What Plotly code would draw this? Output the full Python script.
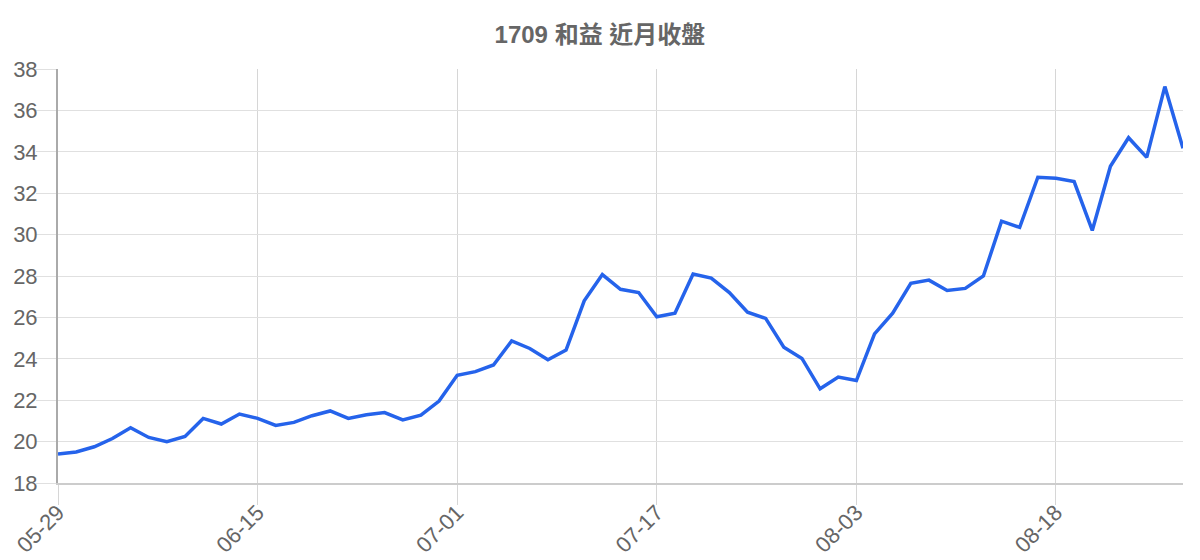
import plotly.graph_objects as go

# 交易日 (MM-DD)
dates = [
    "05-29", "06-01", "06-02", "06-03", "06-04", "06-05", "06-08", "06-09",
    "06-10", "06-11", "06-12", "06-15", "06-16", "06-17", "06-18", "06-22",
    "06-23", "06-24", "06-25", "06-26", "06-29", "06-30", "07-01", "07-02",
    "07-03", "07-06", "07-07", "07-08", "07-09", "07-10", "07-13", "07-14",
    "07-15", "07-17", "07-20", "07-21", "07-22", "07-23", "07-24", "07-27",
    "07-28", "07-29", "07-30", "07-31", "08-03", "08-04", "08-05", "08-06",
    "08-07", "08-10", "08-11", "08-12", "08-13", "08-14", "08-17", "08-18",
    "08-19", "08-20", "08-21", "08-24", "08-25", "08-26", "08-27",
]

# 近月收盤
close = [
    19.40, 19.50, 19.75, 20.15, 20.67, 20.20, 20.00, 20.25, 21.12, 20.85,
    21.33, 21.12, 20.78, 20.93, 21.25, 21.48, 21.12, 21.30, 21.40, 21.05,
    21.28, 21.96, 23.20, 23.38, 23.70, 24.86, 24.50, 23.95, 24.42, 26.80,
    28.07, 27.36, 27.20, 26.03, 26.20, 28.10, 27.90, 27.20, 26.25, 25.95,
    24.56, 24.02, 22.55, 23.12, 22.95, 25.20, 26.20, 27.65, 27.80, 27.30,
    27.40, 28.00, 30.65, 30.35, 32.77, 32.72, 32.56, 30.20, 33.30, 34.68,
    33.73, 37.15, 34.17,
]

tick_labels = dates[::11]

font_family = "Liberation Sans, Arial, Noto Sans CJK TC, sans-serif"

fig = go.Figure()
fig.add_trace(go.Scatter(
    x=dates,
    y=close,
    mode="lines",
    line=dict(color="#2563eb", width=3.5),
    hoverinfo="x+y",
))

# page body has an 8px margin, so margins are shifted to land the plot
fig.update_layout(
    width=1200,
    height=560,
    margin=dict(l=50, r=25, t=61, b=85, autoexpand=False),
    paper_bgcolor="white",
    plot_bgcolor="white",
    showlegend=False,
    font=dict(family=font_family, color="#666666", size=22),
    title=dict(
        text="<b>1709 和益 近月收盤</b>",
        x=0.4933,
        xanchor="center",
        y=0.952,
        yanchor="middle",
        font=dict(size=24, color="#666666", family=font_family),
    ),
    xaxis=dict(
        type="category",
        automargin=False,
        range=[0, len(dates) - 1],
        tickmode="array",
        tickvals=tick_labels,
        ticktext=tick_labels,
        tickangle=-45,
        ticks="outside",
        ticklen=20,
        ticklabelstandoff=-14,
        tickcolor="#d6d6d6",
        showgrid=True,
        gridcolor="#d6d6d6",
        gridwidth=1,
        showline=True,
        linecolor="#cccccc",
        linewidth=2,
        zeroline=False,
        tickfont=dict(size=22, color="#666666"),
    ),
    yaxis=dict(
        automargin=False,
        range=[18, 38],
        dtick=2,
        tick0=18,
        ticks="outside",
        ticklen=20,
        ticklabelstandoff=-6,
        tickcolor="#e0e0e0",
        showgrid=True,
        gridcolor="#e0e0e0",
        gridwidth=1,
        showline=True,
        linecolor="#aaaaaa",
        linewidth=2,
        zeroline=False,
        tickfont=dict(size=22, color="#666666"),
    ),
)

fig.write_html("out.html")
